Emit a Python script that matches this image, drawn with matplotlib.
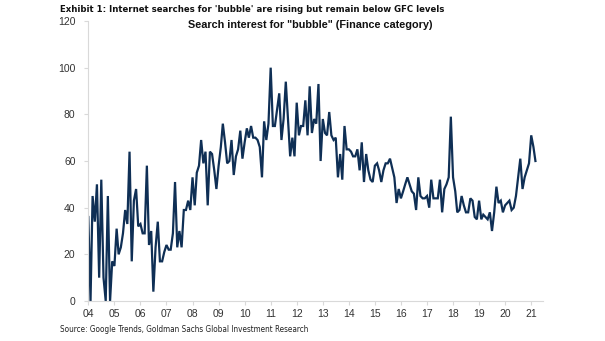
import matplotlib
matplotlib.use("Agg")
import matplotlib.pyplot as plt
import pandas as pd

values = [
    36, 0, 45, 34, 50, 10, 52, 10, 0, 45, 0, 17,
    15, 31, 20, 23, 29, 39, 33, 64, 17, 43, 48, 32,
    33, 29, 29, 58, 24, 30, 4, 23, 34, 17, 17, 21,
    24, 22, 22, 29, 51, 23, 30, 23, 39, 39, 43, 39,
    53, 41, 55, 58, 69, 59, 64, 41, 64, 63, 56, 48,
    58, 66, 76, 68, 59, 60, 69, 54, 62, 65, 73, 61,
    68, 74, 70, 75, 70, 70, 69, 66, 53, 77, 69, 76,
    100, 75, 75, 82, 89, 69, 78, 94, 78, 62, 70, 62,
    85, 71, 75, 75, 86, 71, 92, 72, 78, 76, 93, 60,
    78, 72, 71, 81, 71, 69, 70, 53, 63, 52, 75, 65,
    65, 64, 62, 62, 65, 56, 68, 51, 63, 56, 52, 51,
    58, 59, 56, 51, 56, 59, 59, 61, 57, 53, 42, 48,
    44, 47, 50, 53, 50, 47, 46, 39, 53, 45, 44, 44,
    45, 40, 52, 44, 44, 44, 52, 38, 48, 50, 53, 79,
    53, 47, 38, 39, 45, 41, 38, 38, 44, 43, 36, 35,
    43, 35, 37, 36, 35, 38, 30, 38, 49, 42, 43, 38,
    41, 42, 43, 39, 40, 45, 53, 61, 48, 53, 56, 59,
    71, 66, 60,
]
start_month = "2004-01-01"
tick_years = list(range(2004, 2022))
tick_labels = [f"{y % 100:02d}" for y in tick_years]
y_ticks = [0, 20, 40, 60, 80, 100, 120]

title = "Exhibit 1: Internet searches for 'bubble' are rising but remain below GFC levels"
subtitle = 'Search interest for "bubble" (Finance category)'
source = "Source: Google Trends, Goldman Sachs Global Investment Research"

dates = pd.date_range(start_month, periods=len(values), freq="MS")

plt.rcParams["font.family"] = ["Liberation Sans", "DejaVu Sans"]

fig = plt.figure(figsize=(6.05, 3.41), dpi=100)
ax = fig.add_axes([0.1455, 0.1173, 0.752, 0.8211])
ax.plot(dates, values, color="#0f2f55", linewidth=1.6, solid_joinstyle="miter")

ax.set_ylim(0, 120)
ax.set_yticks(y_ticks)
ax.set_xlim(pd.Timestamp("2003-12-28"), pd.Timestamp("2021-06-15"))
ax.set_xticks([pd.Timestamp(f"{y}-01-01") for y in tick_years])
ax.set_xticklabels(tick_labels)

for s in ["top", "right"]:
    ax.spines[s].set_visible(False)
for s in ["left", "bottom"]:
    ax.spines[s].set_color("#d9d9d9")
    ax.spines[s].set_linewidth(0.8)
ax.tick_params(axis="both", colors="#d9d9d9", labelcolor="#333333",
               labelsize=7.5, length=3, width=0.8)
ax.tick_params(axis="x", pad=3)
ax.tick_params(axis="y", pad=6)

fig.text(0.099, 0.973, title, fontsize=6.8, fontweight="bold",
         family=["DejaVu Sans"], fontstretch="condensed",
         ha="left", va="center", color="#111111")
fig.text(0.512, 0.926, subtitle, fontsize=7.8, fontweight="bold",
         ha="center", va="center", color="#111111")
fig.text(0.099, 0.035, source, fontsize=5.9,
         family=["DejaVu Sans"], fontstretch="condensed",
         ha="left", va="center", color="#222222")

fig.savefig("out.png", dpi=100)
